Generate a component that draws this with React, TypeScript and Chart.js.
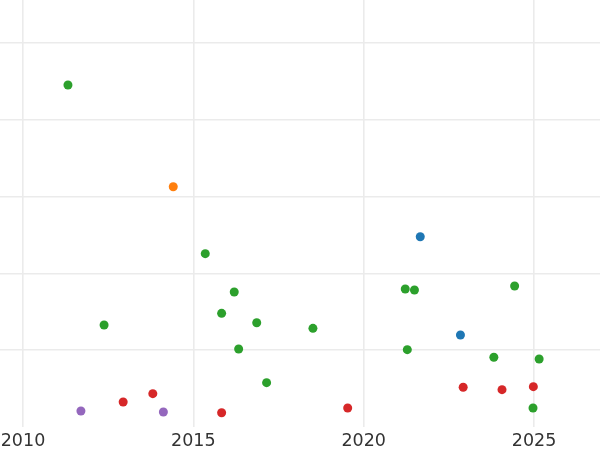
import React, { useEffect, useRef } from "react";
import { Chart, registerables } from "chart.js";

Chart.register(...registerables);

const xTicks = [2010, 2015, 2020, 2025];
const yTicks = [1, 2, 3, 4, 5];

const greenX = [2011.32, 2012.38, 2015.35, 2016.2, 2015.83, 2016.86, 2016.33, 2017.15, 2018.51, 2021.22, 2021.49, 2021.28, 2024.43, 2023.82, 2025.15, 2024.97];
const greenY = [4.453, 1.328, 2.257, 1.758, 1.48, 1.358, 1.016, 0.577, 1.285, 1.797, 1.784, 1.007, 1.836, 0.908, 0.885, 0.247];

const orangeX = [2014.41];
const orangeY = [3.129];

const blueX = [2021.66, 2022.84];
const blueY = [2.478, 1.198];

const redX = [2012.94, 2013.81, 2015.83, 2019.53, 2022.92, 2024.06, 2024.98];
const redY = [0.326, 0.434, 0.186, 0.247, 0.517, 0.486, 0.525];

const purpleX = [2011.7, 2014.12];
const purpleY = [0.208, 0.195];

const groups = [
  { name: "green", xs: greenX, ys: greenY, color: "#2ca02c" },
  { name: "orange", xs: orangeX, ys: orangeY, color: "#ff7f0e" },
  { name: "blue", xs: blueX, ys: blueY, color: "#1f77b4" },
  { name: "red", xs: redX, ys: redY, color: "#d62728" },
  { name: "purple", xs: purpleX, ys: purpleY, color: "#9467bd" },
];

export default function App() {
  const ref = useRef<HTMLCanvasElement | null>(null);

  useEffect(() => {
    if (!ref.current) return;
    const chart = new Chart(ref.current, {
      type: "scatter",
      data: {
        datasets: groups.map((g) => ({
          label: g.name,
          data: g.xs.map((x, i) => ({ x, y: g.ys[i] })),
          backgroundColor: g.color,
          borderWidth: 0,
          pointRadius: 4.5,
        })),
      },
      options: {
        animation: false,
        responsive: false,
        maintainAspectRatio: false,
        layout: { padding: 0, autoPadding: false },
        plugins: { legend: { display: false }, tooltip: { enabled: false } },
        scales: {
          x: {
            type: "linear",
            min: 2009.325,
            max: 2026.936,
            afterBuildTicks: (scale: any) => {
              scale.ticks = xTicks.map((v) => ({ value: v }));
            },
            afterFit: (scale: any) => {
              scale.height = 23;
              scale.paddingLeft = 0;
              scale.paddingRight = 0;
            },
            grid: { color: "#ebebeb", lineWidth: 1.6, drawTicks: false },
            border: { display: false },
            ticks: {
              padding: 4,
              color: "#333333",
              font: { family: "DejaVu Sans", size: 17.5 },
              callback: (v: any) => String(v),
              maxRotation: 0,
            },
          },
          y: {
            type: "linear",
            min: 0,
            max: 5.56,
            display: true,
            afterBuildTicks: (scale: any) => {
              scale.ticks = yTicks.map((v) => ({ value: v }));
            },
            afterFit: (scale: any) => {
              scale.width = 0;
              scale.paddingTop = 0;
              scale.paddingBottom = 0;
            },
            grid: { color: "#ebebeb", lineWidth: 1.6, drawTicks: false },
            border: { display: false },
            ticks: { display: false },
          },
        },
      },
    });
    return () => chart.destroy();
  }, []);

  return (
    <div style={{ position: "fixed", left: 0, top: 0, width: 600, height: 450, background: "#fff" }}>
      <canvas ref={ref} width={600} height={450} style={{ width: 600, height: 450, display: "block" }} />
    </div>
  );
}
